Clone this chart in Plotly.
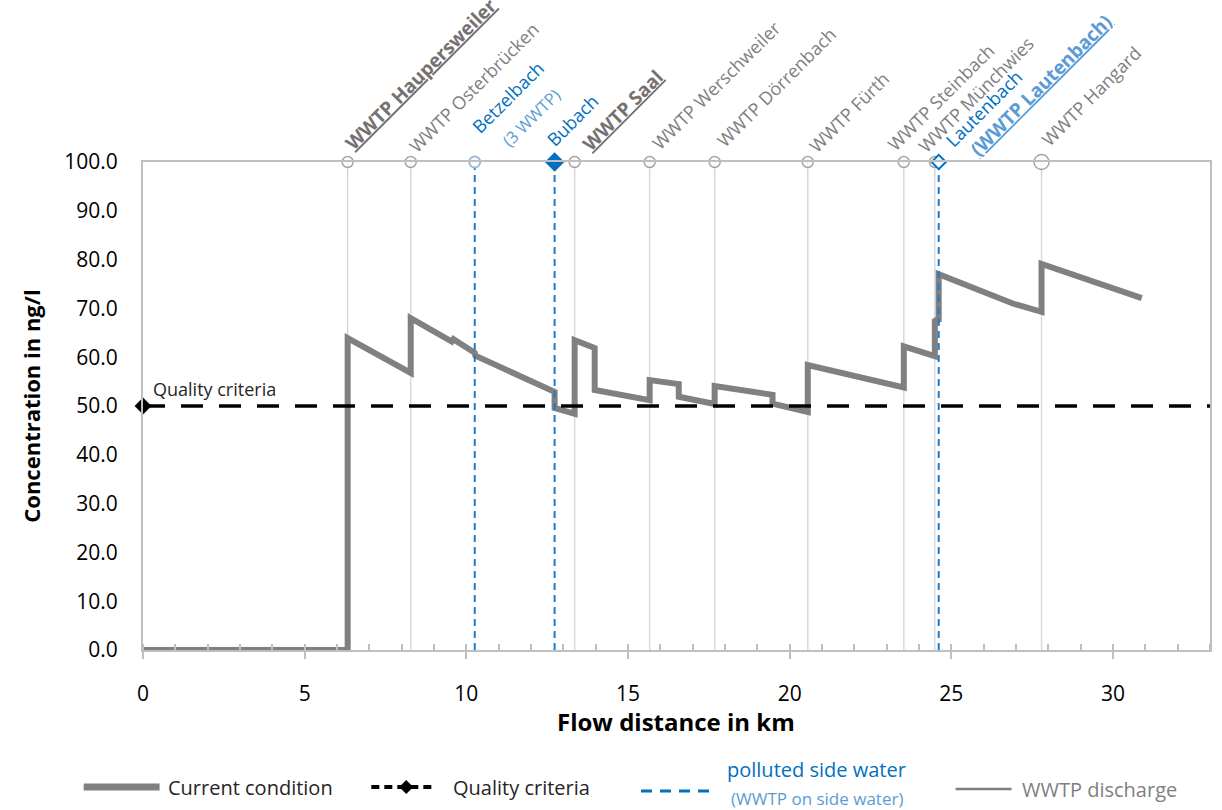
import math
import plotly.graph_objects as go

FONT = "Open Sans, Noto Sans, DejaVu Sans, sans-serif"

# ---------------- data ----------------
distance_km = [0, 6.33, 6.33, 8.28, 8.28, 9.55, 9.60, 10.26, 10.28, 12.73, 12.73,
               13.35, 13.35, 13.97, 13.97, 15.67, 15.67, 16.57, 16.57, 17.68, 17.68,
               19.47, 19.47, 20.56, 20.56, 23.53, 23.53, 24.49, 24.49, 24.61, 24.61,
               26.90, 27.79, 27.79, 30.89]
concentration = [0, 0, 63.9, 56.8, 68.0, 63.2, 63.7, 60.9, 60.3, 52.9, 49.6,
                 48.4, 63.5, 61.9, 53.3, 51.2, 55.3, 54.5, 51.9, 50.4, 54.1,
                 52.3, 50.5, 48.8, 58.4, 53.8, 62.2, 60.2, 67.8, 67.3, 77.0,
                 71.0, 69.3, 79.1, 72.1]

wwtp_names = ["WWTP Haupersweiler", "WWTP Osterbrücken", "WWTP Saal", "WWTP Werschweiler",
              "WWTP Dörrenbach", "WWTP Fürth", "WWTP Steinbach", "WWTP Münchwies", "WWTP Hangard"]
wwtp_km = [6.33, 8.28, 13.35, 15.67, 17.68, 20.56, 23.53, 24.49, 27.79]

side_names = ["Betzelbach", "Bubach", "Lautenbach"]
side_notes = ["(3 WWTP)", "", "(WWTP Lautenbach)"]
side_km = [10.26, 12.73, 24.61]

quality_value = 50
x_range = [0, 33]
y_range = [0, 100]
marker_level = 100

# ---------------- geometry helpers (layout only) ----------------
OFF = 0
W, H = 1222, 810
L, R, T, B = 143.4, 10.3, 162, 160
PW, PH = W - L - R, H - T - B


def px_x(km):  # screenshot pixel
    return OFF + L + (km - x_range[0]) * PW / (x_range[1] - x_range[0])


def py_y(v):
    return OFF + T + PH - (v - y_range[0]) * PH / (y_range[1] - y_range[0])


def paper_x(px):
    return (px - OFF - L) / PW


def paper_y(py):
    return (OFF + T + PH - py) / PH


GRAY = "#808080"
BLUE = "#0070C0"
LBLUE = "#5B9BD5"
LGRAY = "#D9D9D9"
AXC = "#BFBFBF"

fig = go.Figure()

# WWTP discharge verticals
vx, vy = [], []
for k in wwtp_km:
    vx += [k, k, None]
    vy += [y_range[0], marker_level, None]
fig.add_trace(go.Scatter(x=vx, y=vy, mode="lines", line=dict(color=LGRAY, width=1.5),
                         hoverinfo="skip", showlegend=False))

# current condition
fig.add_trace(go.Scatter(x=distance_km, y=concentration, mode="lines",
                         line=dict(color=GRAY, width=6), showlegend=False))

# quality criteria
fig.add_trace(go.Scatter(x=[x_range[0], x_range[1]], y=[quality_value, quality_value],
                         mode="lines", line=dict(color="black", width=3.5, dash="22px,16px"),
                         showlegend=False, hoverinfo="skip"))
fig.add_trace(go.Scatter(x=[x_range[0]], y=[quality_value], mode="markers",
                         marker=dict(symbol="diamond", size=13, color="black"),
                         cliponaxis=False, showlegend=False))

# polluted side waters
sx, sy = [], []
for k in side_km:
    sx += [k, k, None]
    sy += [y_range[0], marker_level, None]
fig.add_trace(go.Scatter(x=sx, y=sy, mode="lines",
                         line=dict(color="#1F7BCB", width=2, dash="7px,5px"),
                         hoverinfo="skip", showlegend=False))

# markers on the top
sizes = [11] * (len(wwtp_km) - 1) + [15]
fig.add_trace(go.Scatter(x=wwtp_km, y=[marker_level] * len(wwtp_km), mode="markers",
                         marker=dict(symbol="circle", size=sizes, color="white",
                                     line=dict(color=GRAY, width=1.5)),
                         cliponaxis=False, showlegend=False))
fig.add_trace(go.Scatter(x=[side_km[0]], y=[marker_level], mode="markers",
                         marker=dict(symbol="circle", size=11, color="white",
                                     line=dict(color="#9FB8D6", width=2)),
                         cliponaxis=False, showlegend=False))
fig.add_trace(go.Scatter(x=[side_km[1]], y=[marker_level], mode="markers",
                         marker=dict(symbol="diamond", size=15, color=BLUE),
                         cliponaxis=False, showlegend=False))
fig.add_trace(go.Scatter(x=[side_km[2]], y=[marker_level], mode="markers",
                         marker=dict(symbol="diamond", size=11, color="white",
                                     line=dict(color=BLUE, width=2)),
                         cliponaxis=False, showlegend=False))

annotations = []


def rot_label(station, text, bx, by, fs, color):
    d = 0.25 * fs + 2
    blx = bx + 0.707 * d - 1.414
    bly = by + 0.707 * d + 1.414 + 1
    h = 1.36 * fs + 4
    bbx = blx - h * 0.707 + 9
    annotations.append(dict(
        x=station, y=marker_level, xref="x", yref="y", text=text, showarrow=False,
        textangle=-45, xanchor="left", yanchor="bottom",
        xshift=bbx - px_x(station), yshift=py_y(marker_level) - bly,
        font=dict(family=FONT, size=fs, color=color)))


# label placement (baseline start in screenshot px)
wwtp_label_pos = [(346, 151, 19, True), (410, 153, 18, False), (584, 152, 19, True),
                  (653, 150, 18, False), (718, 148, 18, False), (810, 153, 18, False),
                  (889, 151, 18, False), (920, 153, 18, False), (1043, 147, 18, False)]
for name, k, (bx, by, fs, bold) in zip(wwtp_names, wwtp_km, wwtp_label_pos):
    txt = f"<b><u>{name}</u></b>" if bold else name
    rot_label(k, txt, bx, by, fs, "#7F7F7F" if not bold else "#767171")

side_label_pos = [(473, 134, 18), (548, 147, 18), (947, 147, 18)]
side_note_pos = [(502, 148, 16.5, False), None, (972, 157, 19, True)]
for name, note, k, p, q in zip(side_names, side_notes, side_km, side_label_pos, side_note_pos):
    rot_label(k, name, p[0], p[1], p[2], BLUE)
    if note:
        txt = f"<b><u>{note}</u></b>" if q[3] else note
        rot_label(k, txt, q[0], q[1], q[2], LBLUE)

# quality criteria label
annotations.append(dict(x=x_range[0], y=quality_value, xref="x", yref="y",
                        text="Quality criteria", showarrow=False, xanchor="left",
                        yanchor="bottom", xshift=8, yshift=3,
                        font=dict(family=FONT, size=18, color="#262626")))

# axis titles
annotations.append(dict(x=paper_x(31), y=paper_y(406), xref="paper", yref="paper",
                        text="<b>Concentration in ng/l</b>", textangle=-90, showarrow=False,
                        xanchor="center", yanchor="middle",
                        font=dict(family=FONT, size=22, color="black")))
annotations.append(dict(x=paper_x(677), y=paper_y(721), xref="paper", yref="paper",
                        text="<b>Flow distance in km</b>", showarrow=False,
                        xanchor="center", yanchor="middle",
                        font=dict(family=FONT, size=24, color="black")))

# manual legend (screenshot px)
shapes = []
ly = 787
shapes.append(dict(type="line", xref="paper", yref="paper", x0=paper_x(84), x1=paper_x(160),
                   y0=paper_y(ly), y1=paper_y(ly), line=dict(color=GRAY, width=7)))
annotations.append(dict(x=paper_x(166), y=paper_y(ly), xref="paper", yref="paper",
                        text="Current condition", showarrow=False, xanchor="left", yanchor="middle",
                        font=dict(family=FONT, size=20, color="#262626")))
shapes.append(dict(type="line", xref="paper", yref="paper", x0=paper_x(372), x1=paper_x(437),
                   y0=paper_y(ly), y1=paper_y(ly), line=dict(color="black", width=4, dash="8px,5px")))
dcx, dcy, dr = 407, ly, 7
shapes.append(dict(type="path", xref="paper", yref="paper",
                   path=f"M {paper_x(dcx - dr)} {paper_y(dcy)} L {paper_x(dcx)} {paper_y(dcy - dr)} "
                        f"L {paper_x(dcx + dr)} {paper_y(dcy)} L {paper_x(dcx)} {paper_y(dcy + dr)} Z",
                   fillcolor="black", line=dict(width=0)))
annotations.append(dict(x=paper_x(452), y=paper_y(ly), xref="paper", yref="paper",
                        text="Quality criteria", showarrow=False, xanchor="left", yanchor="middle",
                        font=dict(family=FONT, size=20, color="#262626")))
shapes.append(dict(type="line", xref="paper", yref="paper", x0=paper_x(642), x1=paper_x(714),
                   y0=paper_y(791), y1=paper_y(791), line=dict(color=BLUE, width=3, dash="11px,8px")))
annotations.append(dict(x=paper_x(818), y=paper_y(769), xref="paper", yref="paper",
                        text="polluted side water", showarrow=False, xanchor="center", yanchor="middle",
                        font=dict(family=FONT, size=20, color=BLUE)))
annotations.append(dict(x=paper_x(818), y=paper_y(798), xref="paper", yref="paper",
                        text="(WWTP on side water)", showarrow=False, xanchor="center", yanchor="middle",
                        font=dict(family=FONT, size=17, color=LBLUE)))
shapes.append(dict(type="line", xref="paper", yref="paper", x0=paper_x(957), x1=paper_x(1013),
                   y0=paper_y(789), y1=paper_y(789), line=dict(color=GRAY, width=2.5)))
annotations.append(dict(x=paper_x(1021), y=paper_y(789), xref="paper", yref="paper",
                        text="WWTP discharge", showarrow=False, xanchor="left", yanchor="middle",
                        font=dict(family=FONT, size=20, color=GRAY)))

fig.update_layout(
    width=W, height=H, autosize=False,
    margin=dict(l=L, r=R, t=T, b=B),
    paper_bgcolor="white", plot_bgcolor="white",
    showlegend=False,
    font=dict(family=FONT, size=20, color="black"),
    annotations=annotations, shapes=shapes,
    xaxis=dict(range=x_range, dtick=5, tick0=0, showgrid=False, zeroline=False,
               showline=True, linecolor=AXC, linewidth=2, mirror=True,
               ticks="outside", ticklen=7, tickwidth=2, tickcolor=AXC,
               ticklabelstandoff=17,
               tickfont=dict(family=FONT, size=21, color="black"),
               minor=dict(dtick=1, ticks="inside", ticklen=6, tickwidth=1.5,
                          tickcolor=AXC, showgrid=False)),
    yaxis=dict(range=y_range, dtick=10, tick0=0, tickformat=".1f", showgrid=False,
               zeroline=False, showline=True, linecolor=AXC, linewidth=2, mirror=True,
               ticks="", ticklabelstandoff=19,
               tickfont=dict(family=FONT, size=21, color="black")),
)

fig.write_html("out.html", config={"displayModeBar": False},
               post_script="document.body.style.margin='0px';")
